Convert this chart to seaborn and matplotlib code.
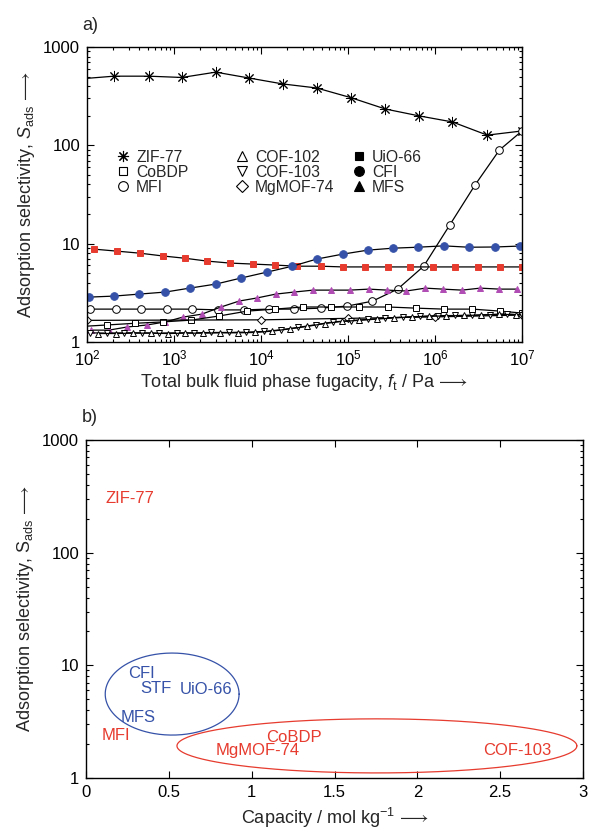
import numpy as np
import pandas as pd
import matplotlib
matplotlib.use("Agg")
import matplotlib.pyplot as plt
import seaborn as sns
from matplotlib.lines import Line2D
from matplotlib.ticker import LogLocator, FixedLocator, FuncFormatter, NullFormatter

sns.set_theme(style="ticks")
plt.rcParams['font.family'] = ['Liberation Sans', 'DejaVu Sans']
plt.rcParams['mathtext.fontset'] = 'custom'
plt.rcParams['mathtext.rm'] = 'Liberation Sans'
plt.rcParams['mathtext.it'] = 'Liberation Sans:italic'
plt.rcParams['mathtext.bf'] = 'Liberation Sans:bold'
plt.rcParams['mathtext.fallback'] = 'stix'

# ---------------- panel a) data (log10 fugacity / Pa, selectivity) ----------------
zif_logf = [2.0, 2.31, 2.71, 3.09, 3.48, 3.86, 4.25, 4.64, 5.03, 5.43, 5.82, 6.20, 6.60, 7.0]
zif_s = [480, 505, 505, 490, 555, 484, 421, 383, 306, 234, 199, 173, 127, 140]

mfi_logf = [2.03, 2.33, 2.62, 2.92, 3.21, 3.51, 3.80, 4.09, 4.38, 4.69, 4.99, 5.28, 5.57, 5.87, 6.17, 6.46, 6.74, 7.0]
mfi_s = [2.16, 2.16, 2.16, 2.16, 2.16, 2.12, 2.12, 2.16, 2.16, 2.21, 2.32, 2.6, 3.45, 5.9, 15.5, 39.5, 89.5, 140]

uio_logf = [2.08, 2.34, 2.61, 2.87, 3.13, 3.38, 3.64, 3.91, 4.16, 4.41, 4.69, 4.94, 5.20, 5.46, 5.71, 5.98, 6.23, 6.49, 6.75, 7.0]
uio_s = [8.8, 8.4, 8.0, 7.5, 7.1, 6.65, 6.35, 6.2, 6.06, 5.9, 5.9, 5.8, 5.8, 5.8, 5.8, 5.8, 5.8, 5.8, 5.8, 5.8]

cfi_logf = [2.02, 2.31, 2.60, 2.90, 3.18, 3.48, 3.77, 4.07, 4.36, 4.64, 4.94, 5.23, 5.52, 5.80, 6.10, 6.39, 6.69, 6.98]
cfi_s = [2.86, 2.93, 3.07, 3.22, 3.53, 3.88, 4.47, 5.14, 5.9, 6.97, 7.83, 8.6, 9.0, 9.2, 9.5, 9.2, 9.25, 9.46]

mfs_logf = [2.05, 2.25, 2.46, 2.69, 2.90, 3.10, 3.32, 3.54, 3.75, 3.95, 4.17, 4.38, 4.60, 4.80, 5.02, 5.24,
            5.45, 5.67, 5.89, 6.09, 6.31, 6.52, 6.74, 6.94]
mfs_s = [1.32, 1.32, 1.42, 1.49, 1.60, 1.79, 1.92, 2.27, 2.61, 2.80, 3.07, 3.22, 3.37, 3.37, 3.37, 3.45,
         3.37, 3.30, 3.53, 3.45, 3.37, 3.53, 3.45, 3.45]

cobdp_logf = [2.0, 2.23, 2.55, 2.87, 3.20, 3.52, 3.84, 4.16, 4.48, 4.80, 5.13, 5.46, 5.78, 6.10, 6.43, 6.75, 7.0]
cobdp_s = [1.45, 1.49, 1.55, 1.60, 1.67, 1.84, 2.06, 2.16, 2.27, 2.27, 2.27, 2.27, 2.21, 2.16, 2.16, 2.06, 1.97]

mgmof_logf = [2.0, 4.0, 5.0, 6.0, 7.0]
mgmof_s = [1.66, 1.68, 1.74, 1.80, 1.88]

cof103_logf = [2.03, 2.23, 2.43, 2.63, 2.83, 3.03, 3.23, 3.43, 3.63, 3.83, 4.03, 4.23, 4.43, 4.63, 4.83,
               5.03, 5.23, 5.43, 5.63, 5.83, 6.03, 6.23, 6.43, 6.63, 6.83, 7.0]
cof103_s = [1.24, 1.23, 1.24, 1.24, 1.23, 1.24, 1.24, 1.25, 1.25, 1.26, 1.28, 1.33, 1.41, 1.50, 1.60,
            1.65, 1.70, 1.75, 1.79, 1.82, 1.85, 1.86, 1.87, 1.90, 1.93, 1.88]

cof102_logf = [2.13, 2.33, 2.53, 2.73, 2.93, 3.13, 3.33, 3.53, 3.73, 3.93, 4.13, 4.33, 4.53, 4.73, 4.93,
               5.13, 5.33, 5.53, 5.73, 5.93, 6.13, 6.33, 6.53, 6.73, 6.93]
cof102_s = [1.22, 1.22, 1.23, 1.23, 1.22, 1.23, 1.23, 1.24, 1.24, 1.25, 1.29, 1.36, 1.44, 1.54, 1.62,
            1.66, 1.71, 1.76, 1.80, 1.83, 1.84, 1.86, 1.88, 1.91, 1.90]

# ---------------- panel b) data (capacity / mol kg-1, selectivity) ----------------
b_names = ["ZIF-77", "CFI", "STF", "UiO-66", "MFS", "MFI", "CoBDP", "MgMOF-74", "COF-103"]
b_capacity = [0.115, 0.253, 0.326, 0.567, 0.21, 0.097, 1.09, 0.785, 2.396]
b_selectivity = [305, 8.45, 6.2, 6.05, 3.41, 2.37, 2.30, 1.75, 1.77]
b_group = ["red", "blue", "blue", "blue", "blue", "red", "red", "red", "red"]

# ellipses: centre capacity, half-width, centre log10(S), half-height in log10(S)
blue_ellipse = [0.52, 0.404, 0.745, 0.364]
red_ellipse = [1.756, 1.207, 0.285, 0.24]

RED = "#e63b2e"
BLUE = "#3552a8"
PURPLE = "#b04cb4"

fig = plt.figure(figsize=(5.9, 8.34), dpi=100)
ax1 = fig.add_axes([87 / 590, 1 - 342 / 834, 435 / 590, 295 / 834])
ax2 = fig.add_axes([86 / 590, 1 - 778 / 834, 497 / 590, 338 / 834])

lw = 0.9


def series(ax, logf, s, marker, ms, mfc, mec, skip_first=False):
    df = pd.DataFrame({"f": 10 ** np.asarray(logf, dtype=float), "S": s})
    kw = dict(marker=marker, markersize=ms, markerfacecolor=mfc, markeredgecolor=mec,
              markeredgewidth=0.7)
    if skip_first:
        kw["markevery"] = slice(1, None)
    sns.lineplot(data=df, x="f", y="S", ax=ax, color="black", linewidth=lw,
                 estimator=None, sort=True, **kw)


series(ax1, zif_logf, zif_s, (8, 2, 0), 8, "black", "black", skip_first=True)
series(ax1, mfi_logf, mfi_s, "o", 5.5, "white", "black")
series(ax1, uio_logf, uio_s, "s", 5, RED, RED)
series(ax1, cfi_logf, cfi_s, "o", 5.5, BLUE, BLUE)
series(ax1, mfs_logf, mfs_s, "^", 5, PURPLE, PURPLE)
series(ax1, cobdp_logf, cobdp_s, "s", 5, "white", "black", skip_first=True)
series(ax1, mgmof_logf, mgmof_s, "D", 4.5, "white", "black")
series(ax1, cof103_logf, cof103_s, "v", 4.5, "white", "black")
series(ax1, cof102_logf, cof102_s, "^", 4.5, "white", "black")

ax1.set_xscale("log")
ax1.set_yscale("log")
ax1.set_xlim(1e2, 1e7)
ax1.set_ylim(1, 1000)
ax1.xaxis.set_major_locator(LogLocator(base=10, numticks=10))
ax1.xaxis.set_minor_locator(LogLocator(base=10, subs=np.arange(2, 10), numticks=20))
ax1.xaxis.set_minor_formatter(NullFormatter())
ax1.yaxis.set_major_locator(FixedLocator([1, 10, 100, 1000]))
ax1.yaxis.set_major_formatter(FuncFormatter(lambda v, p: f"{v:g}"))
ax1.yaxis.set_minor_locator(LogLocator(base=10, subs=np.arange(2, 10), numticks=20))
ax1.yaxis.set_minor_formatter(NullFormatter())
ax1.set_xlabel(r"Total bulk fluid phase fugacity, $\mathit{f}_\mathrm{t}$ / Pa$\,\longrightarrow$",
               fontsize=13, labelpad=2)
ax1.set_ylabel(r"Adsorption selectivity, $\mathit{S}_\mathrm{ads}\,\longrightarrow$", fontsize=13, labelpad=4)

# legend (three columns)
def mk(marker, mfc, ms=6):
    return Line2D([], [], linestyle="none", marker=marker, markersize=ms,
                  markerfacecolor=mfc, markeredgecolor="black", markeredgewidth=0.8)

cols = [
    ([mk((8, 2, 0), "black", 8), mk("s", "white"), mk("o", "white", 7)], ["ZIF-77", "CoBDP", "MFI"], 0.0644),
    ([mk("^", "white", 7), mk("v", "white", 7), mk("D", "white", 6)], ["COF-102", "COF-103", "MgMOF-74"], 0.338),
    ([mk("s", "black"), mk("o", "black", 7), mk("^", "black", 7)], ["UiO-66", "CFI", "MFS"], 0.6069),
]
legs = []
for handles, labels, xa in cols:
    leg = ax1.legend(handles, labels, loc="center left", bbox_to_anchor=(xa, 0.5746),
                     frameon=False, fontsize=11.3, handlelength=1.0, handletextpad=0.35,
                     labelspacing=0.0, borderpad=0, borderaxespad=0)
    legs.append(leg)
for leg in legs[:-1]:
    ax1.add_artist(leg)

# ---------------- panel b ----------------
t = np.linspace(0, 2 * np.pi, 300)
for (cx, a, cy, b), col in [(blue_ellipse, BLUE), (red_ellipse, RED)]:
    sns.lineplot(x=cx + a * np.cos(t), y=10 ** (cy + b * np.sin(t)), ax=ax2, sort=False,
                 estimator=None, color=col, linewidth=0.9)

for name, c, s, g in zip(b_names, b_capacity, b_selectivity, b_group):
    ax2.text(c, s, name, color=RED if g == "red" else BLUE, fontsize=12, ha="left", va="center")

ax2.set_yscale("log")
ax2.set_xlim(0, 3)
ax2.set_ylim(1, 1000)
ax2.xaxis.set_major_locator(FixedLocator([0, 0.5, 1, 1.5, 2, 2.5, 3]))
ax2.xaxis.set_major_formatter(FuncFormatter(lambda v, p: f"{v:g}"))
ax2.yaxis.set_major_locator(FixedLocator([1, 10, 100, 1000]))
ax2.yaxis.set_major_formatter(FuncFormatter(lambda v, p: f"{v:g}"))
ax2.yaxis.set_minor_locator(LogLocator(base=10, subs=np.arange(2, 10), numticks=20))
ax2.yaxis.set_minor_formatter(NullFormatter())
ax2.set_xlabel(r"Capacity / mol kg$^{-1}\,\longrightarrow$", fontsize=13, labelpad=4)
ax2.set_ylabel(r"Adsorption selectivity, $\mathrm{S}_\mathrm{ads}\,\longrightarrow$", fontsize=13, labelpad=4)

for ax in (ax1, ax2):
    ax.tick_params(which="both", direction="in", top=True, right=True, labelsize=12,
                   colors="black", width=0.8)
    ax.tick_params(which="major", length=5, pad=5)
    ax.tick_params(which="minor", length=2.5)
    for sp in ax.spines.values():
        sp.set_visible(True)
        sp.set_linewidth(1.0)
        sp.set_color("black")

fig.text(82 / 590, 1 - 25 / 834, "a)", fontsize=13, va="center", ha="left")
fig.text(82 / 590, 1 - 417 / 834, "b)", fontsize=13, va="center", ha="left")

fig.savefig("out.png", dpi=100)
